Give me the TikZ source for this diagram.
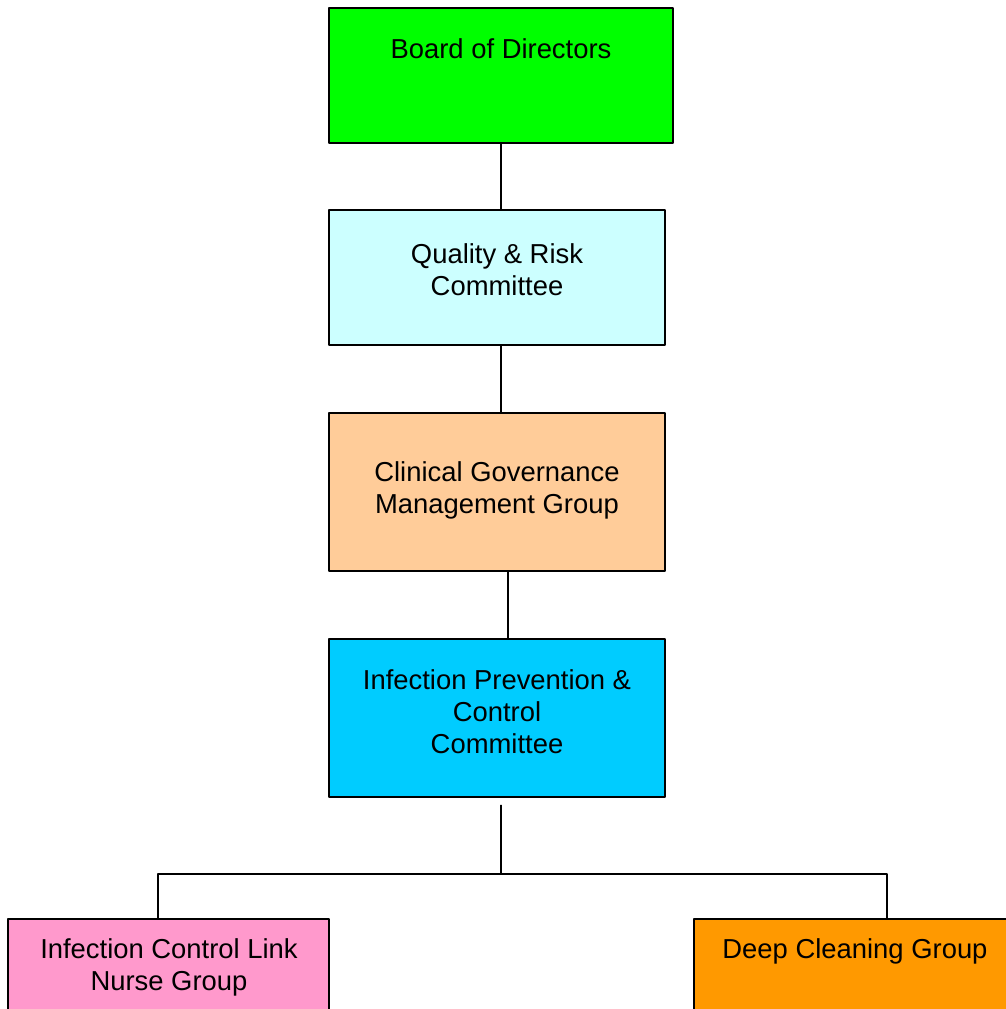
\documentclass[tikz,border=0pt]{standalone}
\usepackage{fontspec}
\setmainfont{Liberation Sans}
\usetikzlibrary{calc}

\definecolor{verde}{RGB}{0,255,0}
\definecolor{celeste}{RGB}{204,255,255}
\definecolor{melocoton}{RGB}{255,204,153}
\definecolor{cielo}{RGB}{0,204,255}
\definecolor{rosa}{RGB}{255,153,204}
\definecolor{naranja}{RGB}{255,153,0}

\begin{document}
\begin{tikzpicture}[
    x={(0.02cm,0cm)},
    y={(0cm,-0.02cm)},
    line join=round,
    every node/.style={font=\fontsize{15.6}{18.2}\selectfont},
    caja/.style={draw=black, line width=0.9pt, inner sep=0pt, outer sep=0pt, anchor=north west},
    rotulo/.style={align=center, anchor=base, inner sep=0pt},
    enlace/.style={line width=0.9pt}
]

\useasboundingbox (0,0) rectangle (1006,1009);
\clip (0,0) rectangle (1006,1009);

\node[caja, fill=verde, minimum width=6.88cm, minimum height=2.70cm] (board) at (329,8) {};
\node[caja, fill=celeste, minimum width=6.72cm, minimum height=2.70cm] (qrc) at (329,210) {};
\node[caja, fill=melocoton, minimum width=6.72cm, minimum height=3.16cm] (cgm) at (329,413) {};
\node[caja, fill=cielo, minimum width=6.72cm, minimum height=3.16cm] (ipc) at (329,639) {};
\node[caja, fill=rosa, minimum width=6.42cm, minimum height=3.00cm] (link) at (8,919) {};
\node[caja, fill=naranja, minimum width=6.44cm, minimum height=3.00cm] (deep) at (694,919) {};

\node[rotulo] (board-t) at (501,58) {Board of Directors};
\node[rotulo] (qrc-t) at (497,295) {Quality \& Risk\\Committee};
\node[rotulo] (cgm-t) at (497,513) {Clinical Governance\\Management Group};
\node[rotulo] (ipc-t) at (497,753) {Infection Prevention \&\\Control\\Committee};
\node[rotulo] (link-t) at (169,990) {Infection Control Link\\Nurse Group};
\node[rotulo] (deep-t) at (855,958) {Deep Cleaning Group};

\coordinate (split) at (501,874);

\draw[enlace] (board.south) -- (board.south |- qrc.north);
\draw[enlace] (qrc.south -| board.south) -- (cgm.north -| board.south);
\draw[enlace] ([xshift=0.22cm]cgm.south) -- ([xshift=0.22cm]cgm.south |- ipc.north);
\draw[enlace] ($(ipc.south -| board.south)+(0,8)$) -- (split);
\draw[enlace] ([xshift=-0.21cm]link.north) |- (split) -| ([xshift=0.64cm]deep.north);

\end{tikzpicture}
\end{document}
